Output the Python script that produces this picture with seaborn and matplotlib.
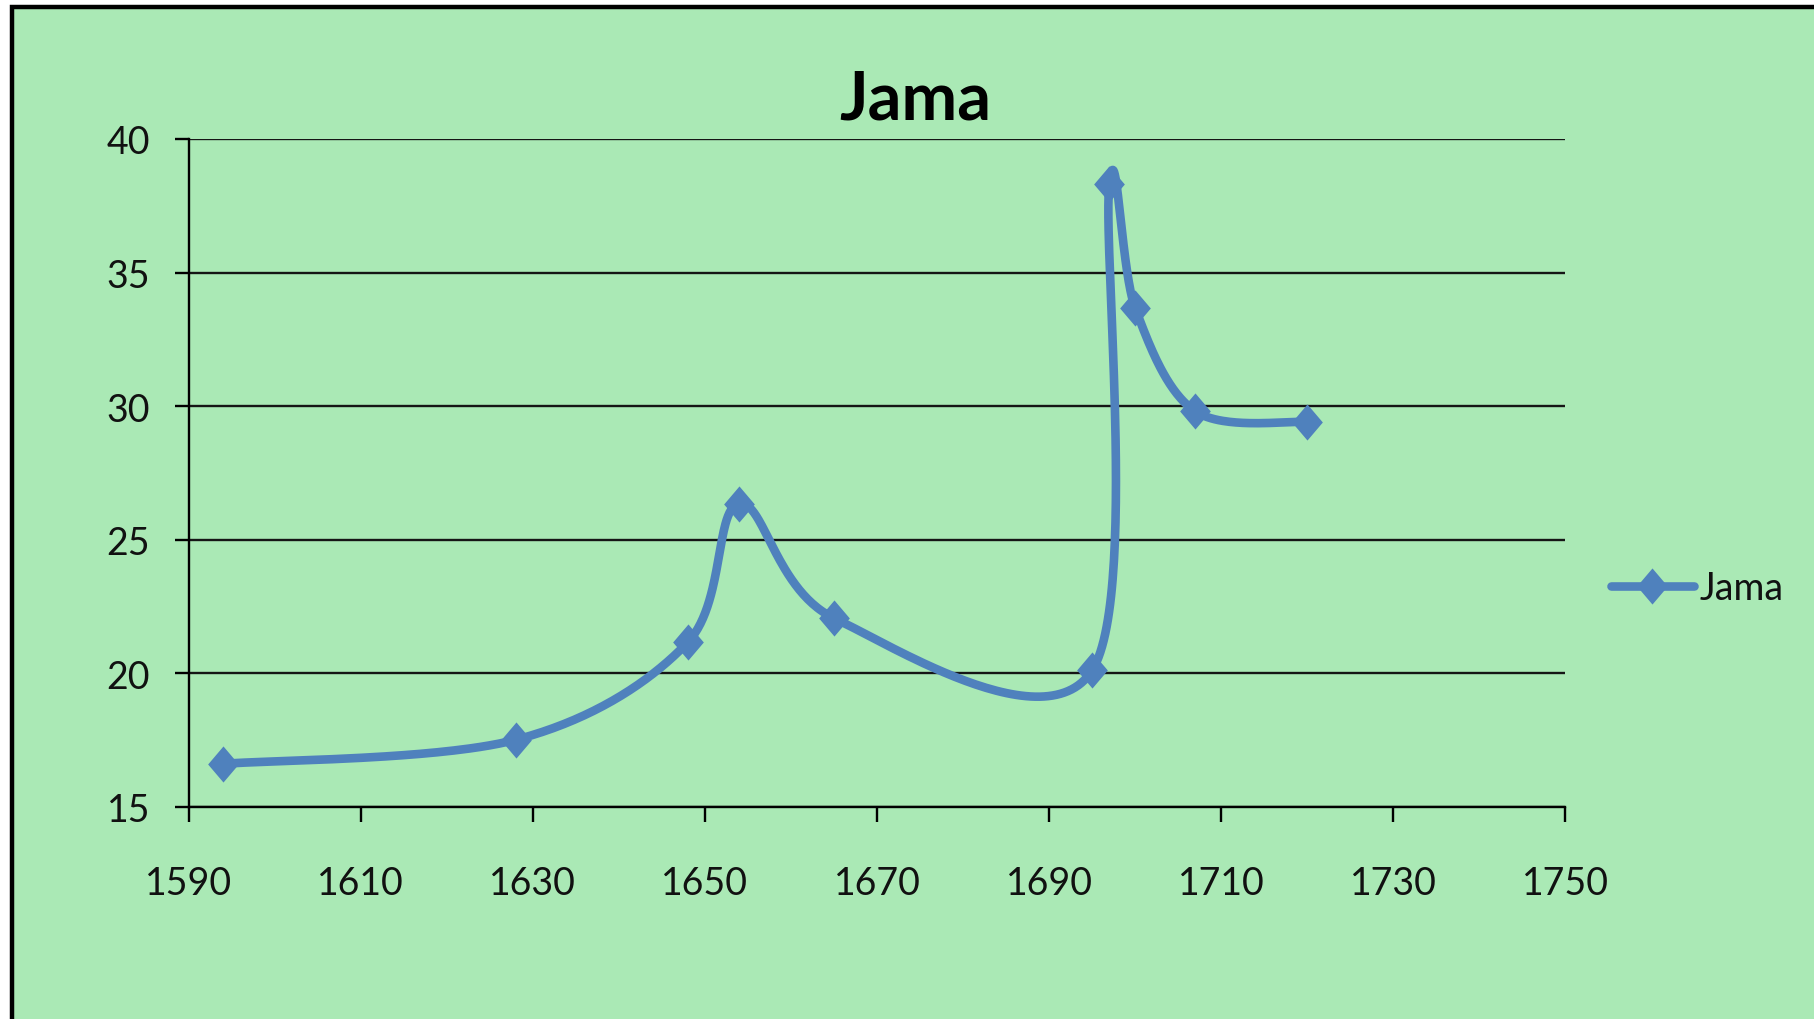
import matplotlib
matplotlib.use("Agg")
import matplotlib.pyplot as plt
from matplotlib.lines import Line2D
from matplotlib.patches import Rectangle
from matplotlib.path import Path as MPath
import numpy as np
import pandas as pd
import seaborn as sns


years = [1594, 1628, 1648, 1654, 1665, 1695, 1697, 1700, 1707, 1720]
jama = [16.6, 17.5, 21.15, 26.35, 22.06, 20.1, 38.3, 33.67, 29.8, 29.4]
x_ticks = [1590, 1610, 1630, 1650, 1670, 1690, 1710, 1730, 1750]
y_ticks = [15, 20, 25, 30, 35, 40]

GREEN = "#aae9b5"
BLUE = "#4f81bd"
DPI = 100


def smooth_curve(ax, xs, ys, n=60):
    """Excel-style smoothed line: cubic Bezier segments built in screen space."""
    pts = ax.transData.transform(np.column_stack([xs, ys]))
    padded = np.vstack([pts[0], pts, pts[-1]])
    out = []
    t = np.linspace(0, 1, n)[:, None]
    for i in range(1, len(padded) - 2):
        p0, p1, p2, p3 = padded[i - 1], padded[i], padded[i + 1], padded[i + 2]
        c1 = p1 + (p2 - p0) / 6
        c2 = p2 - (p3 - p1) / 6
        seg = ((1 - t) ** 3) * p1 + 3 * ((1 - t) ** 2) * t * c1 + 3 * (1 - t) * t ** 2 * c2 + t ** 3 * p2
        out.append(seg if i == 1 else seg[1:])
    curve = ax.transData.inverted().transform(np.vstack(out))
    return pd.DataFrame({"year": curve[:, 0], "value": curve[:, 1]})


sns.set_theme(style="white")
plt.rcParams["font.family"] = ["Lato", "DejaVu Sans"]

fig = plt.figure(figsize=(1814 / DPI, 1020 / DPI), dpi=DPI, facecolor="white")
fig.patches.append(
    Rectangle((12 / 1814, -0.05), 1.1, 1.05 - 8 / 1020, transform=fig.transFigure,
              facecolor=GREEN, edgecolor="black", linewidth=3.2, zorder=-5)
)

ax = fig.add_axes([188.6 / 1814, 1 - 807.6 / 1020, (1565.4 - 188.6) / 1814, (807.6 - 140) / 1020])
ax.set_zorder(1)
ax.set_facecolor("none")
ax.set_xlim(1590, 1750)
ax.set_ylim(15, 40)
ax.set_xticks(x_ticks)
ax.set_yticks(y_ticks)

for y in y_ticks:
    ax.axhline(y, color="#151515", linewidth=1.7, zorder=1)

curve = smooth_curve(ax, years, jama)
sns.lineplot(data=curve, x="year", y="value", sort=False, estimator=None, ax=ax,
             color=BLUE, linewidth=6.2, zorder=3, legend=False)

diamond = MPath([(0, 1), (0.85, 0), (0, -1), (-0.85, 0), (0, 1)],
                [MPath.MOVETO, MPath.LINETO, MPath.LINETO, MPath.LINETO, MPath.CLOSEPOLY])
ax.plot(years, jama, linestyle="none", marker=diamond, markersize=26,
        color=BLUE, markeredgewidth=0, zorder=4)

for side in ["top", "right"]:
    ax.spines[side].set_visible(False)
for side in ["left", "bottom"]:
    ax.spines[side].set_color("black")
    ax.spines[side].set_linewidth(1.7)

ax.tick_params(axis="y", direction="out", length=9.8, width=1.7, color="black",
               pad=18, labelsize=27, labelcolor="#111111", left=True)
ax.tick_params(axis="x", direction="out", length=10.8, width=1.7, color="black",
               pad=31, labelsize=27, labelcolor="#111111", bottom=True)
ax.set_xlabel("")
ax.set_ylabel("")

fig.text(915 / 1814, 1 - 120 / 1020, "Jama", ha="center", va="baseline",
         fontsize=48, fontweight="bold", color="black")

handle = Line2D([], [], color=BLUE, linewidth=6.2, marker=diamond, markersize=26,
                markeredgewidth=0, solid_capstyle="round")
fig.legend(handles=[handle], labels=["Jama"], loc="center left",
           bbox_to_anchor=(1611 / 1814, 1 - 589 / 1020), bbox_transform=fig.transFigure,
           frameon=False, fontsize=27, handlelength=2.2, handletextpad=0.15,
           borderpad=0, borderaxespad=0, labelcolor="#111111")

fig.savefig("out.png", dpi=DPI, facecolor="white")
